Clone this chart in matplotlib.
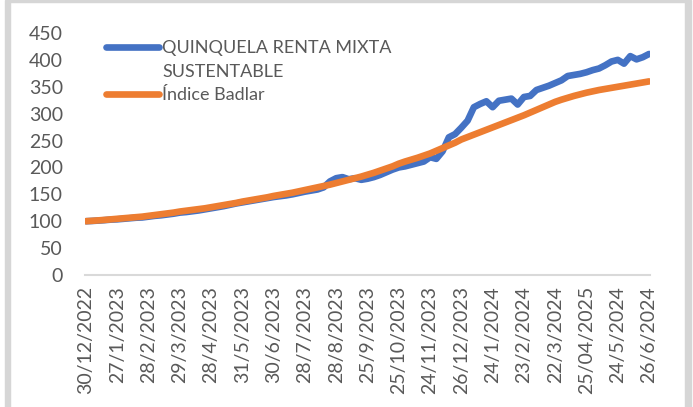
import matplotlib.pyplot as plt
from matplotlib.patches import Rectangle

# Tick labels (category axis, one label every 5 points)
TICK_LABELS = ["30/12/2022", "27/1/2023", "28/2/2023", "29/3/2023", "28/4/2023",
               "31/5/2023", "30/6/2023", "28/7/2023", "28/8/2023", "25/9/2023",
               "25/10/2023", "24/11/2023", "26/12/2023", "24/1/2024", "23/2/2024",
               "22/3/2024", "25/04/2025", "24/5/2024", "26/6/2024"]
TICK_STEP = 5

# Series values
quinquela = [100, 100.5, 101.2, 102, 103, 103.5,
             104.5, 105.5, 106.5, 107, 108.5,
             110, 111, 112.5, 114, 116,
             117, 118.5, 120, 122, 124,
             126, 128, 130.5, 133, 135,
             137, 139, 141, 143, 145,
             146.5, 148, 150, 152.5, 155,
             157, 159, 163, 174, 180,
             182, 178, 180, 177, 179,
             182, 186, 191, 196, 200,
             202, 205, 208, 211, 219,
             216, 230, 256, 262, 274,
             287, 312, 318, 323, 312,
             324, 326, 328, 317, 331,
             333, 344, 348, 352, 357,
             362, 370, 372, 374, 377,
             381, 384, 390, 397, 400,
             393, 407, 401, 405, 411]

badlar = [100, 100.8, 101.6, 102.5, 103.5, 104.5,
          105.5, 106.5, 107.5, 108.5, 110,
          111.5, 113, 114.5, 116, 118,
          119.5, 121, 122.5, 124, 126,
          128, 130, 132, 134, 136.5,
          138.5, 140.5, 142.5, 144.5, 147,
          149, 151, 153, 155.5, 158,
          160.5, 163, 165.5, 168, 171,
          174, 177, 180, 183, 186.5,
          190, 194, 198, 202, 207,
          211, 214.5, 218, 222, 226,
          231, 236, 241, 246, 252,
          256.5, 261, 265.5, 270, 274.5,
          279, 283.5, 288, 292.5, 297,
          302, 307, 312, 317, 322,
          326, 329.5, 333, 336, 339,
          341.5, 344, 346, 348, 350,
          352, 354, 356, 358, 360]

plt.rcParams['font.family'] = ['Lato', 'DejaVu Sans']
TEXT = '#595959'

W, H = 693, 407
fig = plt.figure(figsize=(W / 100, H / 100), dpi=100)

# chart frame bands
band = '#d6d6d6'
fig.patches.append(Rectangle((5 / W, 0), 5 / W, 1, transform=fig.transFigure, color=band, zorder=0))
fig.patches.append(Rectangle((685 / W, 0), 6 / W, 1, transform=fig.transFigure, color=band, zorder=0))
fig.patches.append(Rectangle((10 / W, 1 - 2 / H), 675 / W, 2 / H, transform=fig.transFigure, color=band, zorder=0))

ax = fig.add_axes([85 / W, 132 / H, (650 - 85) / W, (275 - 33) / H])

x = list(range(len(quinquela)))
ax.plot(x, quinquela, color='#4472C4', lw=4.8, solid_capstyle='round',
        label='QUINQUELA RENTA MIXTA')
# second line of the first legend label (Excel wraps it under the text)
ax.plot([], [], color='none', label='SUSTENTABLE')
ax.plot(x, badlar, color='#ED7D31', lw=4.8, solid_capstyle='round',
        label='Índice Badlar')

ax.set_ylim(0, 450)
ax.set_yticks(range(0, 451, 50))
ax.set_xlim(-0.15, len(x) - 1 + 0.15)
ax.set_xticks(range(0, len(x), TICK_STEP))
ax.set_xticklabels(TICK_LABELS, rotation=90)

for s in ['top', 'right', 'left']:
    ax.spines[s].set_visible(False)
ax.spines['bottom'].set_color('#d9d9d9')
ax.spines['bottom'].set_linewidth(1.5)
ax.tick_params(axis='both', length=0, labelsize=14, colors=TEXT)
ax.tick_params(axis='y', pad=16)
ax.tick_params(axis='x', pad=8)

leg = ax.legend(loc='upper left', bbox_to_anchor=(0.025, 1.0), frameon=False,
                fontsize=13, handlelength=2.9, handletextpad=0.2,
                labelspacing=0.42, borderaxespad=0)
for t in leg.get_texts():
    t.set_color(TEXT)

fig.savefig('out.png', dpi=100)
